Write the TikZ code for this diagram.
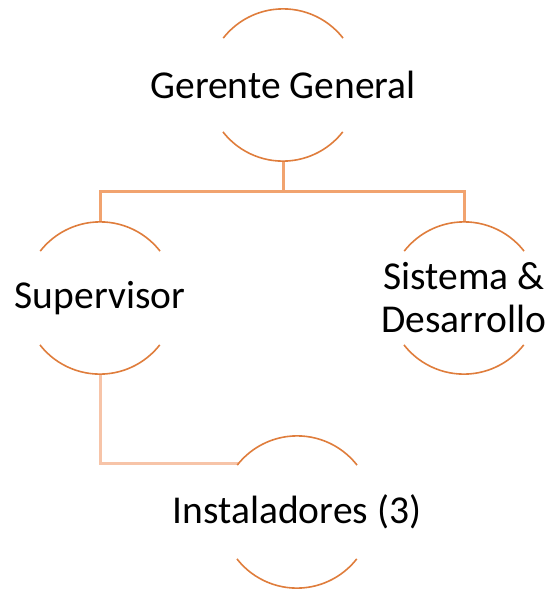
\documentclass[tikz,border=0pt]{standalone}
\usepackage{fontspec}
\setmainfont{Carlito}
\definecolor{arcoC}{RGB}{223,125,60}
\definecolor{lineaC}{RGB}{241,163,111}
\definecolor{ramaC}{RGB}{247,196,168}

\begin{document}
\begin{tikzpicture}[x=1pt,y=-1pt,
        puesto/.style={circle,minimum size=152pt,inner sep=0pt},
        rotulo/.style={font=\fontsize{39.5}{43}\selectfont,align=center},
        arco/.style={line width=1.6pt,arcoC},
        linea/.style={line width=3pt,lineaC}]
        \useasboundingbox (0,0) rectangle (549,590);
        \node[puesto,label={[rotulo]center:Gerente General}] at (283,85) (gg) {};
        \node[puesto,label={[rotulo]center:Supervisor}] at (100,298) (sup) {};
        \node[puesto,label={[rotulo]center:Sistema \&\\Desarrollo}] at (464,298) (sd) {};
        \node[puesto,label={[rotulo]center:Instaladores (3)}] at (297,512) (inst) {};

        \draw[linea] (gg.south) -- ++(0,30) coordinate (rama);
        \draw[linea] (sup.north) |- (rama) -| (sd.north);
        \draw[linea,ramaC] (sup.south) |- (inst.140);

        % only the top and bottom bits of each circle
        \foreach \n in {gg,sup,sd,inst}{
            \draw[arco] (\n.38) arc[start angle=38,end angle=142,radius=76pt];
            \draw[arco] (\n.218) arc[start angle=218,end angle=322,radius=76pt];
        }
    \end{tikzpicture}
\end{document}
